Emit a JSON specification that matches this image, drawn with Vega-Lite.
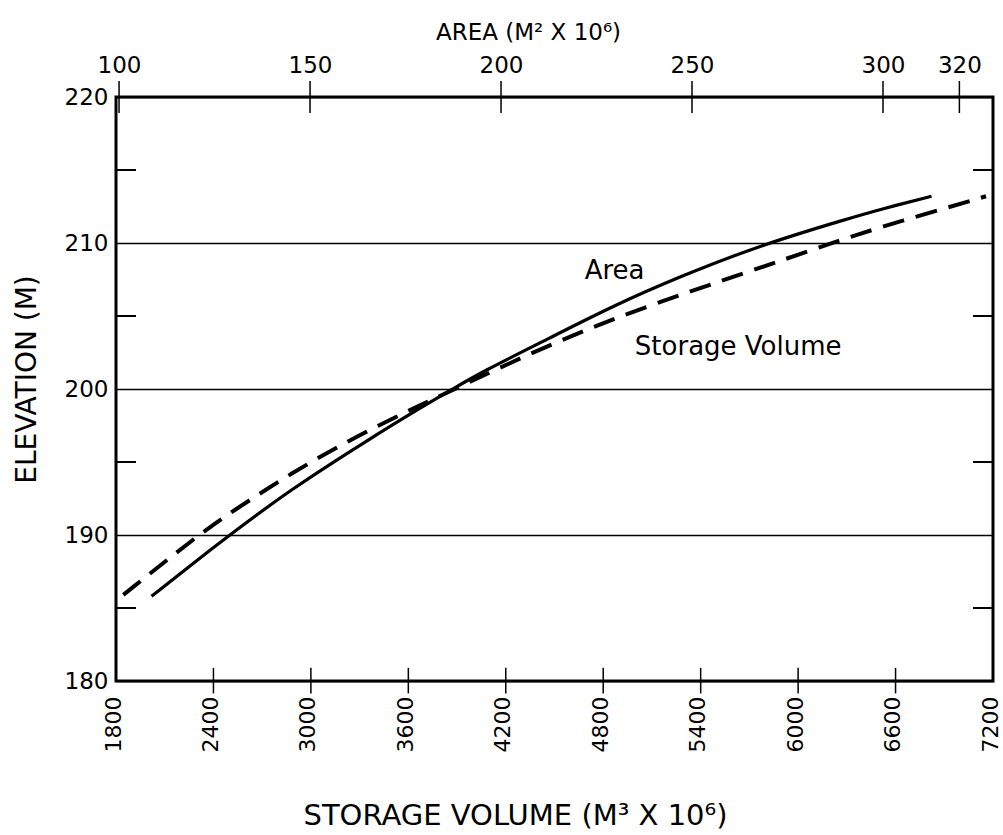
{
  "$schema": "https://vega.github.io/schema/vega-lite/v6.json",
  "width": 877,
  "height": 584,
  "autosize": {"type": "none"},
  "padding": {"left": 116, "top": 97, "right": 10, "bottom": 154},
  "background": "white",
  "config": {
    "font": "DejaVu Sans",
    "view": {"stroke": "black", "strokeWidth": 3},
    "axis": {"domain": false, "labelColor": "black", "titleColor": "black", "labelFont": "DejaVu Sans", "titleFont": "DejaVu Sans", "titleFontWeight": "normal", "labelFlush": false, "labelOverlap": false}
  },
  "datasets": {
    "volume": [
      {"vol": 1845, "elev": 185.9}, {"vol": 2318, "elev": 190.1}, {"vol": 2521, "elev": 191.65},
      {"vol": 2873, "elev": 194.2}, {"vol": 3284, "elev": 196.8}, {"vol": 3674, "elev": 198.9},
      {"vol": 3877, "elev": 199.95}, {"vol": 4475, "elev": 203.1}, {"vol": 5071, "elev": 205.7},
      {"vol": 5688, "elev": 208.0}, {"vol": 6181, "elev": 209.9}, {"vol": 6510, "elev": 211.1},
      {"vol": 6941, "elev": 212.5}, {"vol": 7157, "elev": 213.2}
    ],
    "area": [
      {"area": 108.5, "elev": 185.8}, {"area": 118.6, "elev": 187.9}, {"area": 129.5, "elev": 190.1},
      {"area": 144.8, "elev": 193.1}, {"area": 165.7, "elev": 196.6}, {"area": 178.8, "elev": 198.7},
      {"area": 187.4, "elev": 200.0}, {"area": 194.5, "elev": 201.1}, {"area": 212.8, "elev": 203.5},
      {"area": 229.4, "elev": 205.7}, {"area": 246.8, "elev": 207.7}, {"area": 268.4, "elev": 209.9},
      {"area": 291.3, "elev": 211.7}, {"area": 299.2, "elev": 212.3}, {"area": 312.7, "elev": 213.2}
    ],
    "labels": [
      {"vol": 4870, "elev": 208.06, "text": "Area"},
      {"vol": 5631, "elev": 202.9, "text": "Storage Volume"}
    ],
    "vticks": [{"v": 2400}, {"v": 3000}, {"v": 3600}, {"v": 4200}, {"v": 4800}, {"v": 5400}, {"v": 6000}, {"v": 6600}],
    "aticks": [{"a": 100}, {"a": 150}, {"a": 200}, {"a": 250}, {"a": 300}, {"a": 320}],
    "yminor": [{"e": 185}, {"e": 195}, {"e": 205}, {"e": 215}]
  },
  "layer": [
    {
      "layer": [
        {
          "data": {"name": "volume"},
          "mark": {"type": "line", "color": "black", "strokeWidth": 4, "strokeDash": [22, 12], "interpolate": "basis"},
          "encoding": {
            "x": {
              "field": "vol", "type": "quantitative",
              "scale": {"domain": [1800, 7200], "nice": false, "zero": false},
              "axis": {
                "orient": "bottom", "values": [1800, 2400, 3000, 3600, 4200, 4800, 5400, 6000, 6600, 7200],
                "format": "d",
                "ticks": false, "grid": false, "labelAngle": -90, "labelAlign": "right", "labelBaseline": "middle",
                "labelFontSize": 22, "labelPadding": 15, "labelOffset": -3,
                "title": "STORAGE VOLUME (M³ X 10⁶)", "titleFontSize": 29, "titleX": 399, "titleY": 143,
                "titleAlign": "center", "titleBaseline": "alphabetic"
              }
            },
            "y": {
              "field": "elev", "type": "quantitative",
              "scale": {"domain": [180, 220], "nice": false, "zero": false},
              "axis": {
                "values": [180, 190, 200, 210, 220], "ticks": false, "grid": true, "gridColor": "black",
                "gridWidth": 1.5, "gridOpacity": 1, "labelFontSize": 23, "labelPadding": 8,
                "title": "ELEVATION (M)", "titleFontSize": 28, "titleX": -89, "titleY": 282,
                "titleAngle": -90, "titleAlign": "center", "titleBaseline": "middle"
              }
            }
          }
        },
        {
          "data": {"name": "labels"},
          "mark": {"type": "text", "color": "black", "fontSize": 26, "font": "DejaVu Sans", "align": "center", "baseline": "middle"},
          "encoding": {
            "x": {"field": "vol", "type": "quantitative", "scale": {"domain": [1800, 7200], "nice": false, "zero": false}},
            "y": {"field": "elev", "type": "quantitative", "scale": {"domain": [180, 220], "nice": false, "zero": false}},
            "text": {"field": "text"}
          }
        },
        {
          "data": {"name": "vticks"},
          "mark": {"type": "rule", "color": "black", "strokeWidth": 1.5},
          "encoding": {
            "x": {"field": "v", "type": "quantitative", "scale": {"domain": [1800, 7200], "nice": false, "zero": false}},
            "y": {"datum": 179.15, "type": "quantitative", "scale": {"domain": [180, 220], "nice": false, "zero": false}},
            "y2": {"datum": 180.9}
          }
        },
        {
          "data": {"name": "yminor"},
          "mark": {"type": "rule", "color": "black", "strokeWidth": 2},
          "encoding": {
            "x": {"datum": 1800, "type": "quantitative", "scale": {"domain": [1800, 7200], "nice": false, "zero": false}},
            "x2": {"datum": 1923},
            "y": {"field": "e", "type": "quantitative", "scale": {"domain": [180, 220], "nice": false, "zero": false}}
          }
        },
        {
          "data": {"name": "yminor"},
          "mark": {"type": "rule", "color": "black", "strokeWidth": 2},
          "encoding": {
            "x": {"datum": 7077, "type": "quantitative", "scale": {"domain": [1800, 7200], "nice": false, "zero": false}},
            "x2": {"datum": 7200},
            "y": {"field": "e", "type": "quantitative", "scale": {"domain": [180, 220], "nice": false, "zero": false}}
          }
        }
      ]
    },
    {
      "layer": [
        {
          "data": {"name": "area"},
          "mark": {"type": "line", "color": "black", "strokeWidth": 3.2, "interpolate": "basis"},
          "encoding": {
            "x": {
              "field": "area", "type": "quantitative",
              "scale": {"domain": [99.2, 328.8], "nice": false, "zero": false},
              "axis": {
                "orient": "top", "values": [100, 150, 200, 250, 300, 320], "ticks": false, "grid": false,
                "labelFontSize": 23, "labelPadding": 20, "labelAngle": 0,
                "title": "AREA (M² X 10⁶)", "titleFontSize": 23, "titleX": 412, "titleY": -65,
                "titleAlign": "center", "titleBaseline": "middle"
              }
            },
            "y": {"field": "elev", "type": "quantitative", "scale": {"domain": [180, 220], "nice": false, "zero": false}}
          }
        },
        {
          "data": {"name": "aticks"},
          "mark": {"type": "rule", "color": "black", "strokeWidth": 1.5},
          "encoding": {
            "x": {"field": "a", "type": "quantitative", "scale": {"domain": [99.2, 328.8], "nice": false, "zero": false}},
            "y": {"datum": 218.9, "type": "quantitative", "scale": {"domain": [180, 220], "nice": false, "zero": false}},
            "y2": {"datum": 221.1}
          }
        }
      ]
    }
  ],
  "resolve": {"scale": {"x": "independent"}}
}
